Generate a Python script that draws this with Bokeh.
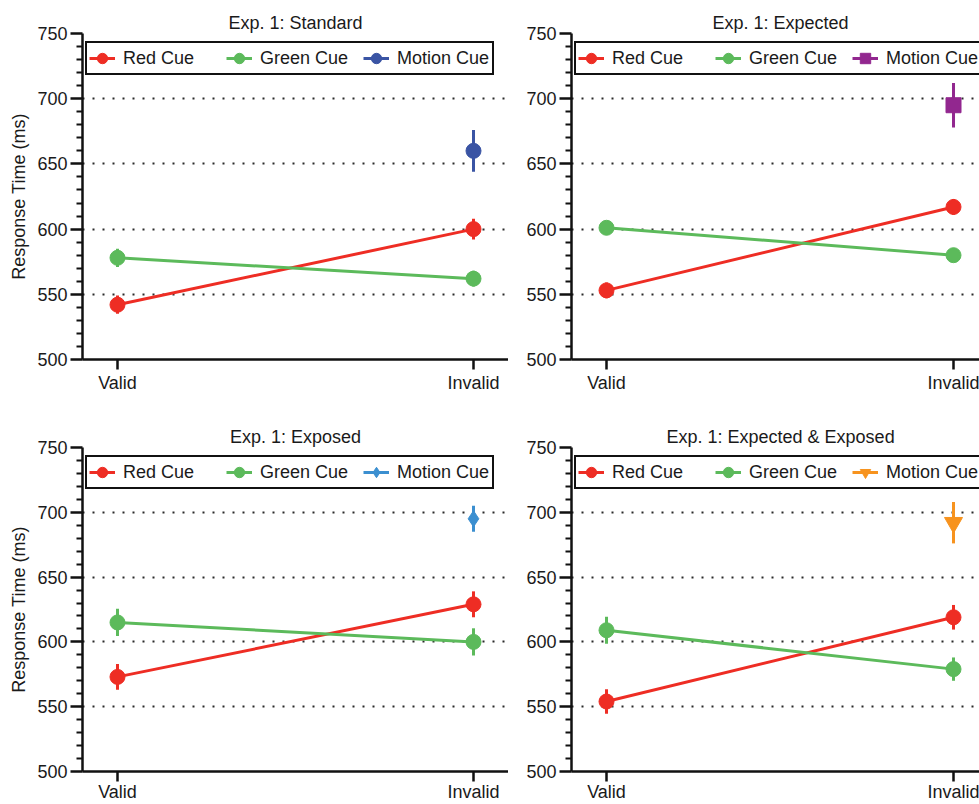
from bokeh.plotting import figure
from bokeh.layouts import column, row
from bokeh.models import FixedTicker, Legend, LegendItem, Range1d
from bokeh.embed import file_html
from bokeh.resources import INLINE

# ---------------- data ----------------
conditions = ["Valid", "Invalid"]
titles = ["Exp. 1: Standard", "Exp. 1: Expected",
          "Exp. 1: Exposed", "Exp. 1: Expected & Exposed"]

red_rt = [[542, 600], [553, 617], [573, 629], [554, 619]]
red_err = [[7, 8], [6, 6], [10, 10], [9.5, 9.5]]
green_rt = [[578, 562], [601, 580], [615, 600], [609, 579]]
green_err = [[7, 6], [5, 5], [10.5, 10.5], [10.5, 9]]
motion_rt = [660, 695, 695, 692]
motion_err = [16, 17, 10, 16]

y_major = [500, 550, 600, 650, 700, 750]
y_minor = [510, 520, 530, 540, 560, 570, 580, 590, 610, 620, 630, 640,
           660, 670, 680, 690, 710, 720, 730, 740]
legend_labels = ["Red Cue", "Green Cue", "Motion Cue"]

# ---------------- styles ----------------
RED = "#ee2d24"
GREEN = "#5cba5b"
motion_colors = ["#3a54a4", "#92278f", "#3b8fd0", "#f7931e"]
motion_markers = ["circle", "square", "diamond", "inverted_triangle"]
motion_sizes = [15, 15, 16, 18]
FONT = "Liberation Sans"
FS = "18px"
# title placement for right column (left-aligned offset so text centres over x=0.5)
title_offsets = [None, 141, None, 95]

xpos = list(range(len(conditions)))


def make_panel(i, left_col, top_row):
    if left_col:
        width, b_left, xr = 508, 82, (-0.0983, 1.0983)
    else:
        width, b_left, xr = 471, 63, (-0.1009, 1.0749)
    if top_row:
        height, b_top, b_bot, fh = 400, 33, 41, 326
    else:
        height, b_top, b_bot, fh = 404, 47, 33, 324

    p = figure(width=width, height=height, output_backend="svg",
               toolbar_location=None, x_range=Range1d(*xr),
               y_range=Range1d(500, 750),
               min_border_left=b_left, min_border_right=0,
               min_border_top=b_top, min_border_bottom=b_bot)
    p.outline_line_color = None
    p.background_fill_color = "white"
    p.border_fill_color = "white"

    # title
    p.title.text = titles[i]
    p.title.text_font = FONT
    p.title.text_font_size = FS
    p.title.text_font_style = "normal"
    p.title.text_color = "#1a1a1a"
    p.title.standoff = 2
    if title_offsets[i] is None:
        p.title.align = "center"
    else:
        p.title.align = "left"
        p.title.offset = title_offsets[i]

    # axes
    for ax in (p.xaxis[0], p.yaxis[0]):
        ax.axis_line_width = 2.5
        ax.axis_line_color = "#111111"
        ax.major_tick_line_width = 2.5
        ax.major_tick_line_color = "#111111"
        ax.major_tick_in = 0
        ax.major_label_text_font = FONT
        ax.major_label_text_font_size = FS
        ax.major_label_text_color = "#1a1a1a"

    yax = p.yaxis[0]
    yax.ticker = FixedTicker(ticks=y_major, minor_ticks=y_minor)
    yax.major_tick_out = 12
    yax.minor_tick_out = 6
    yax.minor_tick_in = 0
    yax.minor_tick_line_width = 2
    yax.minor_tick_line_color = "#111111"
    yax.major_label_standoff = 3
    if left_col:
        yax.axis_label = "Response Time (ms)"
        yax.axis_label_text_font = FONT
        yax.axis_label_text_font_size = FS
        yax.axis_label_text_font_style = "normal"
        yax.axis_label_text_color = "#1a1a1a"
        yax.axis_label_standoff = 5

    xax = p.xaxis[0]
    xax.ticker = FixedTicker(ticks=xpos)
    xax.major_label_overrides = {k: v for k, v in zip(xpos, conditions)}
    xax.major_tick_out = 10
    xax.minor_tick_out = 0
    xax.minor_tick_line_color = None
    xax.major_label_standoff = 3 if top_row else 0

    # grid
    p.xgrid.grid_line_color = None
    p.ygrid.ticker = FixedTicker(ticks=y_major)
    p.ygrid.grid_line_color = "#2a2a2a"
    p.ygrid.grid_line_width = 2
    p.ygrid.grid_line_dash = "2 8"

    # series
    r_line = p.line(xpos, red_rt[i], line_color=RED, line_width=3)
    g_line = p.line(xpos, green_rt[i], line_color=GREEN, line_width=3)
    p.segment(xpos, [v - e for v, e in zip(red_rt[i], red_err[i])],
              xpos, [v + e for v, e in zip(red_rt[i], red_err[i])],
              line_color=RED, line_width=3)
    p.segment(xpos, [v - e for v, e in zip(green_rt[i], green_err[i])],
              xpos, [v + e for v, e in zip(green_rt[i], green_err[i])],
              line_color=GREEN, line_width=3)
    r_pts = p.scatter(xpos, red_rt[i], marker="circle", size=15,
                      fill_color=RED, line_color=RED)
    g_pts = p.scatter(xpos, green_rt[i], marker="circle", size=15,
                      fill_color=GREEN, line_color=GREEN)

    mx = [xpos[1]]
    mc = motion_colors[i]
    m_line = p.line(mx, [motion_rt[i]], line_color=mc, line_width=3)
    p.segment(mx, [motion_rt[i] - motion_err[i]], mx,
              [motion_rt[i] + motion_err[i]], line_color=mc, line_width=3)
    m_pts = p.scatter(mx, [motion_rt[i]], marker=motion_markers[i],
                      size=motion_sizes[i], fill_color=mc, line_color=mc)

    items = [LegendItem(label=legend_labels[0], renderers=[r_line, r_pts]),
             LegendItem(label=legend_labels[1], renderers=[g_line, g_pts]),
             LegendItem(label=legend_labels[2], renderers=[m_line, m_pts])]
    leg = Legend(items=items, orientation="horizontal",
                 location=(3, fh - 42),
                 glyph_width=26, glyph_height=26, label_height=26,
                 label_width=93, label_standoff=8, spacing=10, padding=2,
                 margin=0,
                 label_text_font=FONT, label_text_font_size=FS,
                 label_text_color="#1a1a1a",
                 border_line_color="#111111", border_line_width=2,
                 border_line_alpha=1.0,
                 background_fill_color="white", background_fill_alpha=1)
    p.add_layout(leg, "center")
    return p


p1 = make_panel(0, True, True)
p2 = make_panel(1, False, True)
p3 = make_panel(2, True, False)
p4 = make_panel(3, False, False)

layout = column(row(p1, p2), row(p3, p4))
open("out.html", "w").write(file_html(layout, INLINE))
